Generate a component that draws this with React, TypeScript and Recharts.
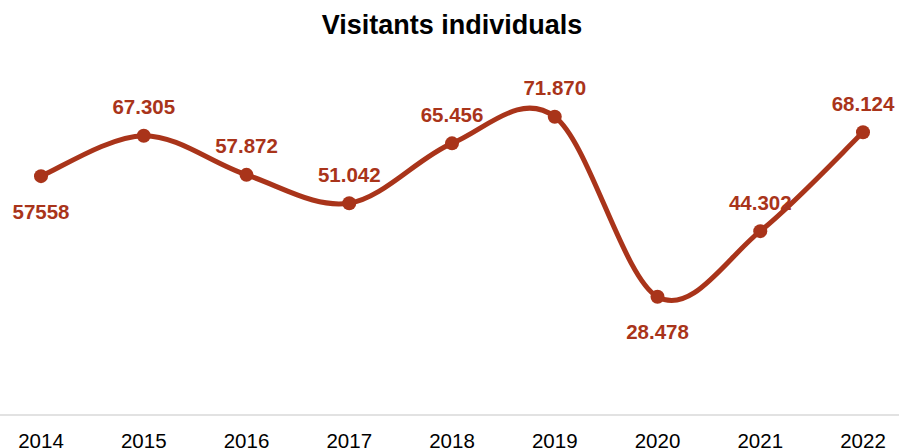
import React from "react";
import { LineChart, Line, XAxis, YAxis, LabelList } from "recharts";

const years = ["2014", "2015", "2016", "2017", "2018", "2019", "2020", "2021", "2022"];
const visitors = [57558, 67305, 57872, 51042, 65456, 71870, 28478, 44302, 68124];
const valueLabels = ["57558", "67.305", "57.872", "51.042", "65.456", "71.870", "28.478", "44.302", "68.124"];
const labelBelow = [true, false, false, false, false, false, true, false, false];

const data = years.map((y, i) => ({ year: y, value: visitors[i], label: valueLabels[i] }));

const RED = "#A9341A";
const FONT = "'Liberation Sans', Arial, sans-serif";

// Catmull-Rom style smoothing (like spreadsheet "smoothed line")
const smoothCurve: any = (context: any) => {
  let pts: number[][] = [];
  return {
    areaStart() {},
    areaEnd() {},
    lineStart() {
      pts = [];
    },
    point(x: number, y: number) {
      pts.push([x, y]);
    },
    lineEnd() {
      if (!pts.length) return;
      context.moveTo(pts[0][0], pts[0][1]);
      for (let i = 0; i < pts.length - 1; i++) {
        const p0 = pts[i - 1] || pts[i];
        const p1 = pts[i];
        const p2 = pts[i + 1];
        const p3 = pts[i + 2] || p2;
        const c1x = p1[0] + (p2[0] - p0[0]) / 6;
        const c1y = p1[1] + (p2[1] - p0[1]) / 6;
        const c2x = p2[0] - (p3[0] - p1[0]) / 6;
        const c2y = p2[1] - (p3[1] - p1[1]) / 6;
        context.bezierCurveTo(c1x, c1y, c2x, c2y, p2[0], p2[1]);
      }
    },
  };
};

const renderLabel = (props: any) => {
  const { x, y, index, value } = props;
  const below = labelBelow[index];
  return (
    <text
      x={x}
      y={below ? y + 35 : y - 29}
      textAnchor="middle"
      dominantBaseline="central"
      fill={RED}
      fontFamily={FONT}
      fontWeight="bold"
      fontSize={20.5}
    >
      {value}
    </text>
  );
};

export default function App() {
  return (
    <div style={{ position: "absolute", left: 0, top: 0, width: 899, height: 448, background: "#fff", overflow: "hidden" }}>
      <div
        style={{
          position: "absolute",
          left: 0,
          top: 12,
          width: 904,
          textAlign: "center",
          fontFamily: FONT,
          fontWeight: "bold",
          fontSize: 27,
          lineHeight: "27px",
          color: "#000",
        }}
      >
        Visitants individuals
      </div>
      <LineChart width={899} height={448} data={data} margin={{ top: 83, right: 0, bottom: 0, left: 0 }}>
        <XAxis
          dataKey="year"
          padding={{ left: 41, right: 36 }}
          axisLine={{ stroke: "#d9d9d9", strokeWidth: 1.5 }}
          tickLine={false}
          height={33}
          tickMargin={12}
          tick={{ fill: "#000", fontSize: 20.5, fontFamily: FONT }}
          interval={0}
        />
        <YAxis hide domain={[0, 80000]} />
        <Line
          dataKey="value"
          type={smoothCurve}
          stroke={RED}
          strokeWidth={5}
          dot={{ r: 7, fill: RED, stroke: RED, strokeWidth: 0 }}
          activeDot={false}
          isAnimationActive={false}
        >
          <LabelList dataKey="label" content={renderLabel} />
        </Line>
      </LineChart>
    </div>
  );
}
